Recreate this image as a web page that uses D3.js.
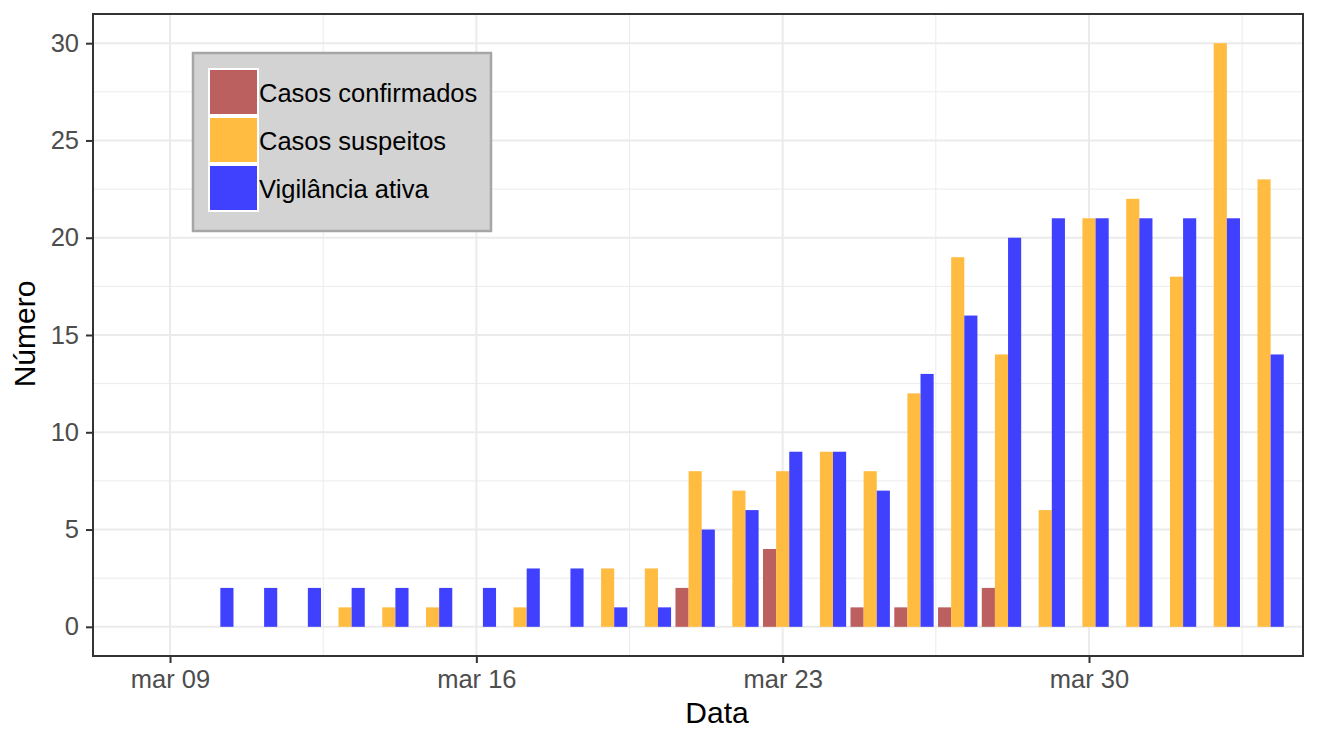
<!DOCTYPE html>
<html>
<head>
<meta charset="utf-8">
<script src="https://d3js.org/d3.v7.min.js"></script>
<style>
  body { margin: 0; background: #fff; }
  text { font-family: "Liberation Sans", Arial, Helvetica, sans-serif; }
</style>
</head>
<body>
<div class="chart-container"></div>
<script>
// Global Variables
const canvasWidth = 1328
const canvasHeight = 729
const panel = { left: 93, right: 1303, top: 14, bottom: 656 }
const day = 24 * 3600 * 1000

// data (mar 09 .. abr 03)
const dias = d3.utcDays(new Date(Date.UTC(2020, 2, 9)), new Date(Date.UTC(2020, 3, 4)))
const confirmados = [0, 0, 0, 0, 0, 0, 0, 0, 0, 0, 0, 0, 2, 0, 4, 0, 1, 1, 1, 2, 0, 0, 0, 0, 0, 0]
const suspeitos = [0, 0, 0, 0, 1, 1, 1, 0, 1, 0, 3, 3, 8, 7, 8, 9, 8, 12, 19, 14, 6, 21, 22, 18, 30, 23]
const vigilancia = [0, 2, 2, 2, 2, 2, 2, 2, 3, 3, 1, 1, 5, 6, 9, 9, 7, 13, 16, 20, 21, 21, 21, 21, 21, 14]
const seriesNames = ['Casos confirmados', 'Casos suspeitos', 'Vigilância ativa']
const seriesColors = ['#BC5F5F', '#FFBC40', '#4040FF']
const xTickDates = [
    new Date(Date.UTC(2020, 2, 9)), new Date(Date.UTC(2020, 2, 16)),
    new Date(Date.UTC(2020, 2, 23)), new Date(Date.UTC(2020, 2, 30))
]
const xTickLabels = ['mar 09', 'mar 16', 'mar 23', 'mar 30']
const yTicks = [0, 5, 10, 15, 20, 25, 30]

const allSeries = [confirmados, suspeitos, vigilancia]
const barData = []
dias.forEach((d, i) => {
    allSeries.forEach((s, k) => {
        barData.push({ date: d, serie: k, value: s[i] })
    })
})

const t0 = dias[0].getTime()
const xScale = d3.scaleUtc()
    .domain([new Date(t0 - 1.76 * day), new Date(t0 + 25.89 * day)])
    .range([panel.left, panel.right])

const yScale = d3.scaleLinear()
    .domain([-1.5, 31.5])
    .range([panel.bottom, panel.top])

const barW = xScale(new Date(t0 + 0.3 * day)) - xScale(new Date(t0))

const svg = d3.select('.chart-container')
    .append('svg')
    .attr('width', canvasWidth)
    .attr('height', canvasHeight)

// grid
const grid = svg.append('g')
const minorX = xTickDates.map(d => new Date(d.getTime() + 3.5 * day))
grid.selectAll('.minor-x')
    .data(minorX)
    .enter()
    .append('line')
    .attr('x1', d => xScale(d)).attr('x2', d => xScale(d))
    .attr('y1', panel.top).attr('y2', panel.bottom)
    .attr('stroke', '#EBEBEB').attr('stroke-width', 1)
grid.selectAll('.minor-y')
    .data(yTicks.map(v => v + 2.5).slice(0, 6))
    .enter()
    .append('line')
    .attr('x1', panel.left).attr('x2', panel.right)
    .attr('y1', d => yScale(d)).attr('y2', d => yScale(d))
    .attr('stroke', '#EBEBEB').attr('stroke-width', 1)
grid.selectAll('.major-x')
    .data(xTickDates)
    .enter()
    .append('line')
    .attr('x1', d => xScale(d)).attr('x2', d => xScale(d))
    .attr('y1', panel.top).attr('y2', panel.bottom)
    .attr('stroke', '#EBEBEB').attr('stroke-width', 2)
grid.selectAll('.major-y')
    .data(yTicks)
    .enter()
    .append('line')
    .attr('x1', panel.left).attr('x2', panel.right)
    .attr('y1', d => yScale(d)).attr('y2', d => yScale(d))
    .attr('stroke', '#EBEBEB').attr('stroke-width', 2)

// bars
svg.append('g')
    .selectAll('rect')
    .data(barData.filter(d => d.value > 0))
    .enter()
    .append('rect')
    .attr('x', d => xScale(new Date(d.date.getTime() + (d.serie - 1) * 0.3 * day)) - barW / 2)
    .attr('width', barW)
    .attr('y', d => yScale(d.value))
    .attr('height', d => yScale(0) - yScale(d.value))
    .attr('fill', d => seriesColors[d.serie])

// axes
const xAxis = d3.axisBottom(xScale)
    .tickValues(xTickDates)
    .tickFormat((d, i) => xTickLabels[i])
    .tickSize(7)
    .tickSizeOuter(0)
const yAxis = d3.axisLeft(yScale)
    .tickValues(yTicks)
    .tickSize(7)
    .tickSizeOuter(0)

const gx = svg.append('g')
    .attr('transform', `translate(0, ${panel.bottom})`)
    .call(xAxis)
const gy = svg.append('g')
    .attr('transform', `translate(${panel.left}, 0)`)
    .call(yAxis)

svg.selectAll('.domain').remove()
svg.selectAll('.tick line').attr('stroke', '#333333').attr('stroke-width', 2)
svg.selectAll('.tick text')
    .attr('font-size', 25.5)
    .attr('fill', '#4D4D4D')
    .attr('font-family', '"Liberation Sans", Arial, Helvetica, sans-serif')
gx.selectAll('.tick text').attr('y', 14).attr('dy', '0.71em')
gy.selectAll('.tick text').attr('x', -14)

// panel border
svg.append('rect')
    .attr('x', panel.left).attr('y', panel.top)
    .attr('width', panel.right - panel.left)
    .attr('height', panel.bottom - panel.top)
    .attr('fill', 'none')
    .attr('stroke', '#333333')
    .attr('stroke-width', 2)

// axis titles
svg.append('text')
    .text('Data')
    .attr('x', 717)
    .attr('y', 723)
    .attr('text-anchor', 'middle')
    .attr('font-size', 30)
    .attr('fill', '#000')
svg.append('text')
    .text('Número')
    .attr('transform', `translate(35, 334) rotate(-90)`)
    .attr('text-anchor', 'middle')
    .attr('font-size', 30)
    .attr('fill', '#000')

// LEGEND
const legend = svg.append('g').attr('id', 'legend')
legend.append('rect')
    .attr('x', 193).attr('y', 53)
    .attr('width', 298).attr('height', 178)
    .attr('fill', '#D3D3D3')
    .attr('stroke', '#A6A6A6')
    .attr('stroke-width', 2.5)

const keys = legend.selectAll('.key')
    .data(seriesNames)
    .enter()
    .append('g')
    .attr('transform', (d, i) => `translate(208, ${68 + i * 48})`)
keys.append('rect')
    .attr('width', 51).attr('height', 48)
    .attr('fill', '#fff')
keys.append('rect')
    .attr('x', 2).attr('y', 2)
    .attr('width', 47).attr('height', 44)
    .attr('fill', (d, i) => seriesColors[i])
keys.append('text')
    .text(d => d)
    .attr('x', 51)
    .attr('y', 34)
    .attr('font-size', 25.5)
    .attr('fill', '#000')
</script>
</body>
</html>
